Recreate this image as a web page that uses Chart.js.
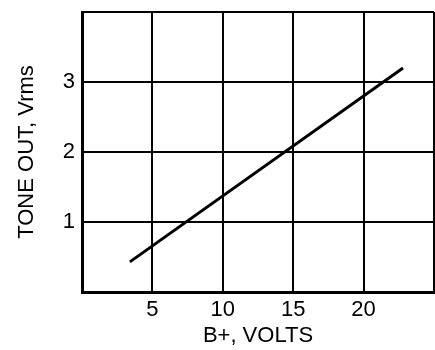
<!DOCTYPE html>
<html>
<head>
<meta charset="utf-8">
<script src="https://cdn.jsdelivr.net/npm/chart.js@4.4.1/dist/chart.umd.min.js"></script>
<style>
  html, body { margin: 0; padding: 0; background: #fff; }
  #wrap { width: 435px; height: 350px; }
</style>
</head>
<body>
<div id="wrap"><canvas id="toneChart" width="435" height="350"></canvas></div>
<script>
// B+ supply voltage against tone output level
const supplyVolts = [3.4, 22.8];
const toneOut = [0.43, 3.2];
const xTickLabels = [5, 10, 15, 20];
const yTickLabels = [1, 2, 3];

const labelFont = { family: "'Liberation Sans', Arial, sans-serif", size: 22 };

const ctx = document.getElementById("toneChart").getContext("2d");

new Chart(ctx, {
  type: "scatter",
  data: {
    datasets: [{
      data: supplyVolts.map((v, i) => ({ x: v, y: toneOut[i] })),
      showLine: true,
      borderColor: "#000",
      borderWidth: 3,
      pointRadius: 0,
      tension: 0
    }]
  },
  options: {
    responsive: false,
    animation: false,
    layout: { padding: { top: 12, right: 1, left: 0, bottom: 0 } },
    plugins: { legend: { display: false }, tooltip: { enabled: false } },
    scales: {
      x: {
        type: "linear",
        min: 0,
        max: 25,
        afterFit: s => { s.height = 58; s.paddingLeft = 0; s.paddingRight = 0; },
        afterBuildTicks: s => { s.ticks = [0, ...xTickLabels, 25].map(v => ({ value: v })); },
        ticks: {
          color: "#000",
          font: labelFont,
          padding: 5,
          callback: v => xTickLabels.includes(v) ? String(v) : ""
        },
        grid: { color: "#000", lineWidth: 2, drawTicks: false },
        border: { color: "#000", width: 3 },
        title: {
          display: true,
          text: "B+, VOLTS",
          color: "#000",
          font: labelFont,
          padding: { top: 0, bottom: 1 }
        }
      },
      y: {
        type: "linear",
        min: 0,
        max: 4,
        afterFit: s => { s.width = 82; s.paddingTop = 0; s.paddingBottom = 0; },
        afterBuildTicks: s => { s.ticks = [0, ...yTickLabels, 4].map(v => ({ value: v })); },
        ticks: {
          color: "#000",
          font: labelFont,
          padding: 7,
          callback: v => yTickLabels.includes(v) ? String(v) : ""
        },
        grid: { color: "#000", lineWidth: 2, drawTicks: false },
        border: { color: "#000", width: 3 },
        title: {
          display: true,
          text: "TONE OUT, Vrms",
          color: "#000",
          font: labelFont,
          padding: { top: 14, bottom: 0 }
        }
      }
    }
  }
});
</script>
</body>
</html>
